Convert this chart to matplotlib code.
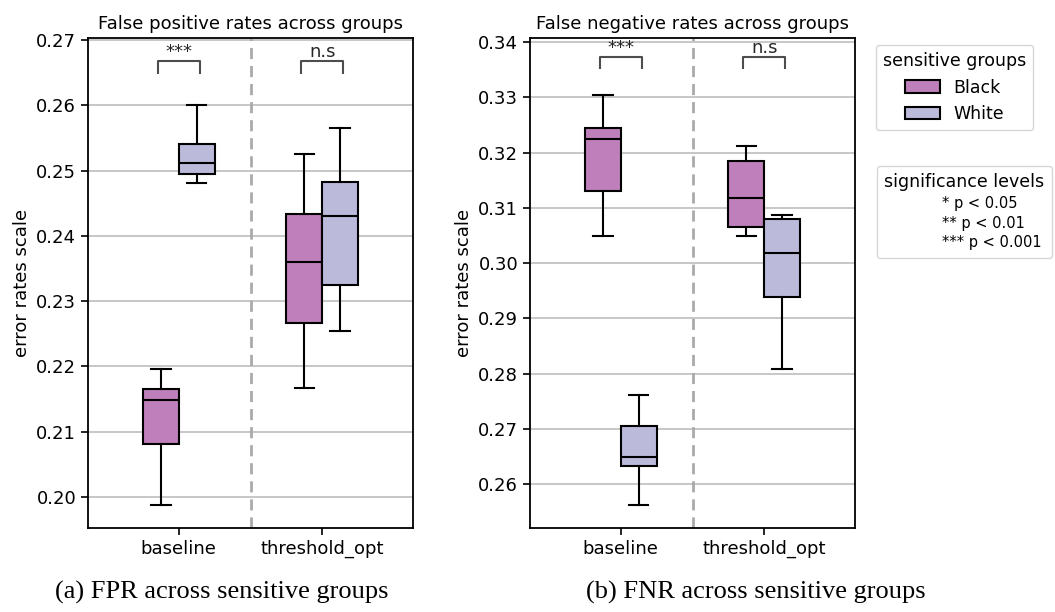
import matplotlib
matplotlib.use("Agg")
import matplotlib.pyplot as plt
from matplotlib.patches import Patch
from matplotlib.lines import Line2D

# Categories
methods = ["baseline", "threshold_opt"]
groups = ["Black", "White"]
group_colors = ["#be7fbb", "#bcbadb"]

# Box statistics, ordered per method then group:
# [baseline/Black, baseline/White, threshold_opt/Black, threshold_opt/White]
fpr_whislo = [0.1988, 0.2481, 0.2167, 0.2254]
fpr_q1 = [0.2081, 0.2495, 0.2267, 0.2325]
fpr_med = [0.2149, 0.2512, 0.2360, 0.2431]
fpr_q3 = [0.2166, 0.2541, 0.2434, 0.2482]
fpr_whishi = [0.2196, 0.2601, 0.2526, 0.2565]

fnr_whislo = [0.3049, 0.2562, 0.3049, 0.2808]
fnr_q1 = [0.3130, 0.2633, 0.3066, 0.2939]
fnr_med = [0.3224, 0.2649, 0.3118, 0.3018]
fnr_q3 = [0.3245, 0.2705, 0.3184, 0.3080]
fnr_whishi = [0.3305, 0.2761, 0.3211, 0.3087]

# Pairwise test result per method (Black vs White)
fpr_signif = ["***", "n.s"]
fnr_signif = ["***", "n.s"]

sig_levels = ["* p < 0.05", "** p < 0.01", "*** p < 0.001"]

FS = 13
plt.rcParams["font.family"] = "DejaVu Sans"

fig = plt.figure(figsize=(10.55, 6.12), dpi=100)
ax1 = fig.add_axes([88 / 1055, 1 - 527.7 / 612, 325 / 1055, (527.7 - 37.7) / 612])
ax2 = fig.add_axes([530 / 1055, 1 - 527.7 / 612, 325 / 1055, (527.7 - 37.7) / 612])

box_w = 0.25


def draw_panel(ax, whislo, q1, med, q3, whishi, signif, title, ylim, ticks):
    stats = []
    positions = []
    colors = []
    for i, m in enumerate(methods):
        for j, g in enumerate(groups):
            k = i * len(groups) + j
            stats.append(dict(med=med[k], q1=q1[k], q3=q3[k],
                              whislo=whislo[k], whishi=whishi[k], fliers=[]))
            positions.append(i + (j - 0.5) * box_w)
            colors.append(group_colors[j])
    bp = ax.bxp(stats, positions=positions, widths=box_w, patch_artist=True,
                showfliers=False, capwidths=box_w * 0.55,
                boxprops=dict(linewidth=1.5, edgecolor="black"),
                medianprops=dict(linewidth=1.5, color="black"),
                whiskerprops=dict(linewidth=1.5, color="black"),
                capprops=dict(linewidth=1.5, color="black"))
    for patch, c in zip(bp["boxes"], colors):
        patch.set_facecolor(c)

    # significance brackets
    top = max(whishi) + 0.0047
    h = 0.002
    for i, s in enumerate(signif):
        x0, x1 = i - 0.146, i + 0.146
        ax.plot([x0, x0, x1, x1], [top, top + h, top + h, top],
                color="0.3", lw=1.5, solid_capstyle="butt")
        ax.text(i, top + h, s, ha="center", va="bottom", fontsize=FS,
                color="0.15")

    ax.axvline(0.5, color="#aaaaaa", lw=2, ls=(0, (4, 2.5)))
    ax.set_xlim(-0.63, 1.63)
    ax.set_ylim(*ylim)
    ax.set_yticks(ticks)
    ax.set_yticklabels([f"{t:.2f}" for t in ticks])
    ax.set_xticks(range(len(methods)))
    ax.set_xticklabels(methods)
    ax.yaxis.grid(True, color="#bdbdbd", lw=1.2)
    ax.set_axisbelow(True)
    ax.tick_params(labelsize=FS, width=1.2, length=5)
    for sp in ax.spines.values():
        sp.set_linewidth(1.3)
    ax.set_title(title, fontsize=FS)
    ax.set_ylabel("error rates scale", fontsize=FS)


draw_panel(ax1, fpr_whislo, fpr_q1, fpr_med, fpr_q3, fpr_whishi, fpr_signif,
           "False positive rates across groups", (0.1953, 0.27035),
           [0.20, 0.21, 0.22, 0.23, 0.24, 0.25, 0.26, 0.27])
draw_panel(ax2, fnr_whislo, fnr_q1, fnr_med, fnr_q3, fnr_whishi, fnr_signif,
           "False negative rates across groups", (0.2521, 0.34078),
           [0.26, 0.27, 0.28, 0.29, 0.30, 0.31, 0.32, 0.33, 0.34])

# legends
group_handles = [Patch(facecolor=c, edgecolor="black", lw=1.5) for c in group_colors]
leg1 = fig.legend(group_handles, groups, title="sensitive groups",
                  loc="upper left", bbox_to_anchor=(876 / 1055, 1 - 45 / 612),
                  borderaxespad=0, fontsize=FS - 0.5, title_fontsize=FS - 0.5,
                  frameon=True)
empty = [Line2D([], [], lw=0, alpha=0) for _ in sig_levels]
leg2 = fig.legend(empty, sig_levels, title="significance levels",
                  loc="upper left", bbox_to_anchor=(877 / 1055, 1 - 166 / 612),
                  borderaxespad=0, fontsize=10.5, title_fontsize=FS - 0.5,
                  frameon=True, handlelength=2.9, labelspacing=0.32,
                  borderpad=0.5)

# captions
fig.text(222 / 1055, 1 - 592 / 612, "(a) FPR across sensitive groups",
         family="Liberation Serif", fontsize=19, ha="center", va="center")
fig.text(756 / 1055, 1 - 592 / 612, "(b) FNR across sensitive groups",
         family="Liberation Serif", fontsize=19, ha="center", va="center")

fig.savefig("out.png", dpi=100)
